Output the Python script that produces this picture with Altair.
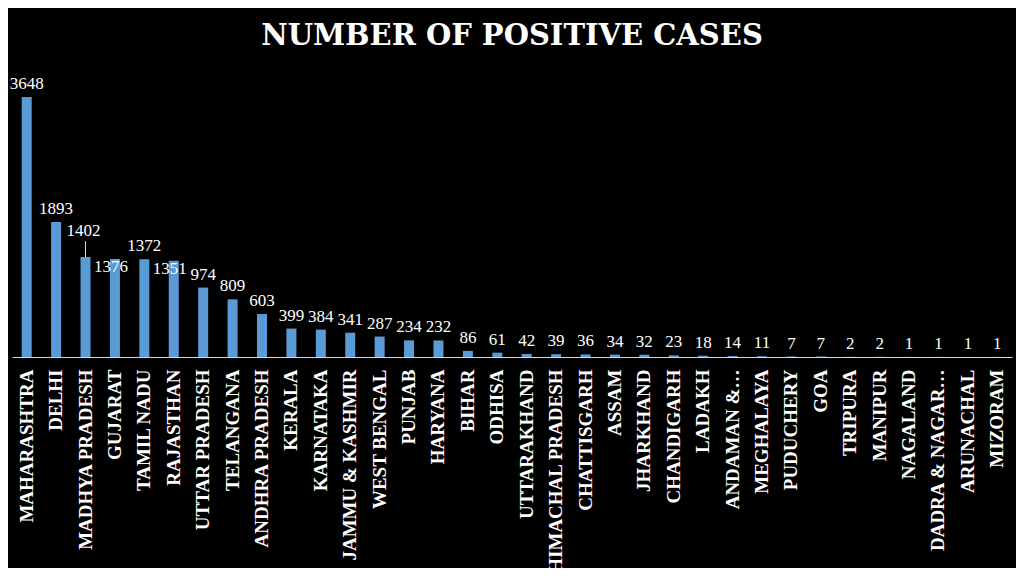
import altair as alt
import pandas as pd

states = ["MAHARASHTRA", "DELHI", "MADHYA PRADESH", "GUJARAT", "TAMIL NADU", "RAJASTHAN",
          "UTTAR PRADESH", "TELANGANA", "ANDHRA PRADESH", "KERALA", "KARNATAKA",
          "JAMMU & KASHMIR", "WEST BENGAL", "PUNJAB", "HARYANA", "BIHAR", "ODHISA",
          "UTTARAKHAND", "HIMACHAL PRADESH", "CHATTISGARH", "ASSAM", "JHARKHAND",
          "CHANDIGARH", "LADAKH", "ANDAMAN &…", "MEGHALAYA", "PUDUCHERY", "GOA",
          "TRIPURA", "MANIPUR", "NAGALAND", "DADRA & NAGAR…", "ARUNACHAL", "MIZORAM"]
cases = [3648, 1893, 1402, 1376, 1372, 1351, 974, 809, 603, 399, 384, 341, 287, 234, 232,
         86, 61, 42, 39, 36, 34, 32, 23, 18, 14, 11, 7, 7, 2, 2, 1, 1, 1, 1]

df = pd.DataFrame({"state": states, "cases": cases})

lowered = ["GUJARAT", "RAJASTHAN"]
raised = ["MADHYA PRADESH"]

base = alt.Chart(df).encode(
    x=alt.X("state:N", sort=states, title=None,
            scale=alt.Scale(paddingInner=0.66, paddingOuter=0.33),
            axis=alt.Axis(labelAngle=-90, labelAlign="right", labelBaseline="middle",
                          labelColor="white", labelFont="Liberation Serif", labelFontSize=19,
                          labelFontWeight="bold", labelPadding=12, ticks=False,
                          domainColor="#d9d9d9", domainWidth=1.2, labelLimit=300)),
    y=alt.Y("cases:Q", title=None, scale=alt.Scale(domain=[0, 3648], nice=False),
            axis=None),
)

txt = dict(color="white", font="Liberation Serif", fontSize=17)

bars = base.mark_bar(color="#5B9BD5")
labels = base.transform_filter(
    ~alt.FieldOneOfPredicate(field="state", oneOf=lowered + raised)
).mark_text(dy=-13, **txt).encode(text="cases:Q")
labels_low = base.transform_filter(
    alt.FieldOneOfPredicate(field="state", oneOf=lowered)
).mark_text(dy=8, dx=-4, **txt).encode(text="cases:Q")
labels_high = base.transform_filter(
    alt.FieldOneOfPredicate(field="state", oneOf=raised)
).mark_text(dy=-26, dx=-2, **txt).encode(text="cases:Q")
leader = base.transform_filter(
    alt.FieldOneOfPredicate(field="state", oneOf=raised)
).mark_rule(color="#d9d9d9", strokeWidth=1, yOffset=-16, y2Offset=0).encode(
    y2=alt.Y2("cases:Q"))

chart = (bars + leader + labels + labels_low + labels_high).properties(
    width=1000, height=260,
    title=alt.TitleParams("NUMBER OF POSITIVE CASES", font="DejaVu Serif", fontSize=29,
                          fontWeight="bold", color="white", offset=24, anchor="middle"),
    autosize=alt.AutoSizeParams(type="none"),
    padding={"left": 4, "top": 89, "right": 4, "bottom": 211},
    background="black",
).configure_view(stroke=None)

chart.save("out.html", embed_options={"renderer": "svg", "actions": False})
